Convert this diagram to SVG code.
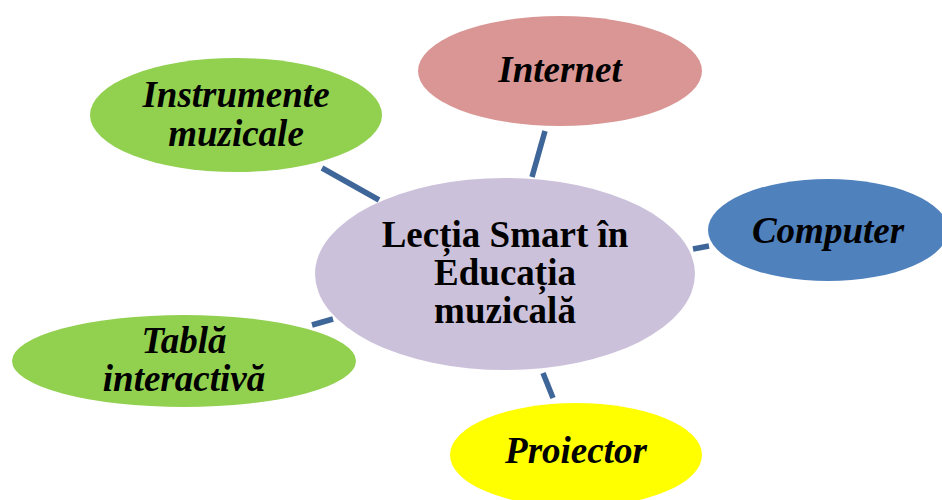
<svg xmlns="http://www.w3.org/2000/svg" width="942" height="500" viewBox="0 0 942 500">
<style>
.t{font-family:"Liberation Serif","Times New Roman",serif;font-size:37px;font-weight:bold;font-style:italic;fill:#000;text-anchor:middle}
.c{font-style:normal}
.ln{stroke:#3e6698;stroke-width:5.5;fill:none}
</style>
<rect width="942" height="500" fill="#fff"/>
<g id="connectors">
<line class="ln" x1="545" y1="131" x2="532" y2="177"/>
<line class="ln" x1="322" y1="168" x2="379" y2="200"/>
<line class="ln" x1="693" y1="249" x2="709" y2="246"/>
<line class="ln" x1="312" y1="325" x2="333" y2="319"/>
<line class="ln" x1="543" y1="373" x2="553" y2="398"/>
</g>
<g id="center">
<ellipse cx="505" cy="274" rx="190" ry="96" fill="#ccc1da"/>
<text class="t c" x="505" y="247">Lecția Smart în</text>
<text class="t c" x="505" y="285">Educația</text>
<text class="t c" x="505" y="323">muzicală</text>
</g>
<g id="internet">
<ellipse cx="560" cy="71" rx="142" ry="55" fill="#d99694"/>
<text class="t" x="560" y="82">Internet</text>
</g>
<g id="instrumente">
<ellipse cx="236" cy="115" rx="146" ry="57" fill="#92d050"/>
<text class="t" x="236" y="107">Instrumente</text>
<text class="t" x="236" y="146">muzicale</text>
</g>
<g id="computer">
<ellipse cx="828" cy="230" rx="120" ry="51" fill="#4f81bd"/>
<text class="t" x="828" y="243">Computer</text>
</g>
<g id="tabla">
<ellipse cx="184" cy="361" rx="172" ry="46" fill="#92d050"/>
<text class="t" x="184" y="353">Tablă</text>
<text class="t" x="184" y="391">interactivă</text>
</g>
<g id="proiector">
<ellipse cx="576" cy="455" rx="126" ry="52" fill="#ffff00"/>
<text class="t" x="576" y="463">Proiector</text>
</g>
</svg>
